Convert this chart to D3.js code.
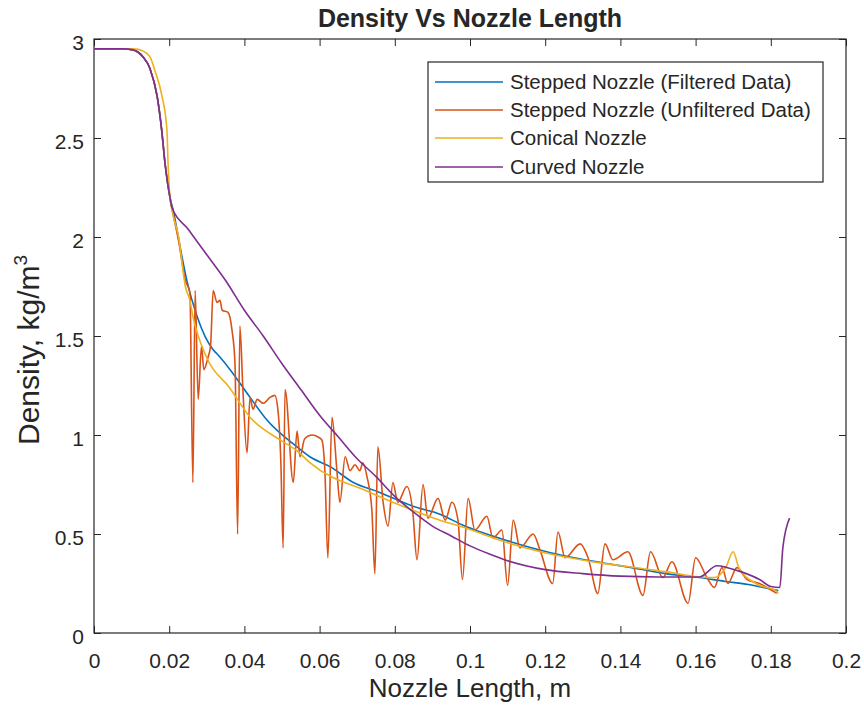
<!DOCTYPE html>
<html>
<head>
<meta charset="utf-8">
<script src="https://cdn.jsdelivr.net/npm/d3@7"></script>
<style>
  html, body { margin: 0; padding: 0; background: #fff; }
  svg text { font-family: "Liberation Sans", Arial, Helvetica, sans-serif; fill: #262626; }
</style>
</head>
<body>
<svg id="chart" width="864" height="713"></svg>
<script>
// ---------- data ----------
const xTicks = [0, 0.02, 0.04, 0.06, 0.08, 0.1, 0.12, 0.14, 0.16, 0.18, 0.2];
const yTicks = [0, 0.5, 1, 1.5, 2, 2.5, 3];
const seriesNames = ["Stepped Nozzle (Filtered Data)", "Stepped Nozzle (Unfiltered Data)", "Conical Nozzle", "Curved Nozzle"];
const seriesColors = ["#0072BD", "#D95319", "#EDB120", "#7E2F8E"];

const steppedFiltered = [
  [0,2.95],[0.008,2.95],[0.0104,2.945],[0.013,2.91],[0.0149,2.85],[0.0168,2.71],[0.018,2.54],
  [0.0189,2.37],[0.0202,2.2],[0.021,2.14],[0.0229,1.95],[0.0247,1.78],[0.0274,1.60],[0.0317,1.43],
  [0.0327,1.41],[0.0362,1.33],[0.0415,1.19],[0.046,1.076],[0.054,0.94],[0.0574,0.89],[0.0628,0.84],
  [0.069,0.76],[0.076,0.71],[0.0848,0.64],[0.092,0.60],[0.098,0.545],[0.111,0.46],[0.125,0.39],
  [0.135,0.355],[0.143,0.33],[0.152,0.30],[0.161,0.28],[0.168,0.26],[0.174,0.245],[0.178,0.23],[0.182,0.215]
];

const steppedUnfiltered = [
  [0,2.95],[0.008,2.95],[0.0104,2.945],[0.013,2.91],[0.0149,2.85],[0.0168,2.71],[0.018,2.54],
  [0.0189,2.37],[0.0202,2.2],[0.021,2.12],[0.0225,1.98],[0.0243,1.78],[0.0255,1.72],[0.0263,0.76],
  [0.0269,1.73],[0.0277,1.18],[0.0286,1.45],[0.0292,1.33],[0.0303,1.39],[0.031,1.45],[0.0317,1.73],
  [0.0327,1.67],[0.0335,1.68],[0.0341,1.63],[0.0356,1.62],[0.0367,1.53],[0.0375,1.36],[0.0382,0.5],
  [0.0388,1.55],[0.0396,1.23],[0.0407,0.91],[0.0415,1.19],[0.0423,1.13],[0.0434,1.18],[0.045,1.16],
  [0.0468,1.19],[0.0481,1.2],[0.0489,1.13],[0.0497,0.86],[0.0503,0.43],[0.0508,1.23],[0.053,0.76],
  [0.054,1.02],[0.0548,0.89],[0.056,0.98],[0.058,1.0],[0.0596,0.99],[0.0606,0.975],[0.0614,0.82],
  [0.0622,0.38],[0.0633,1.09],[0.0646,0.82],[0.0654,0.66],[0.0668,0.89],[0.0681,0.82],[0.0694,0.85],
  [0.0707,0.82],[0.0715,0.86],[0.0726,0.79],[0.0739,0.62],[0.0747,0.30],[0.0755,0.94],[0.0769,0.66],
  [0.0782,0.54],[0.0795,0.76],[0.0808,0.66],[0.0832,0.74],[0.0848,0.61],[0.0859,0.37],[0.0875,0.75],
  [0.0888,0.58],[0.0915,0.68],[0.0934,0.57],[0.0952,0.66],[0.0968,0.57],[0.098,0.27],[0.0995,0.68],
  [0.1013,0.52],[0.1045,0.59],[0.1061,0.48],[0.1085,0.52],[0.110,0.24],[0.1115,0.57],[0.1133,0.43],
  [0.1168,0.50],[0.1186,0.42],[0.122,0.25],[0.1234,0.51],[0.1253,0.38],[0.1293,0.45],[0.1314,0.38],
  [0.134,0.20],[0.1359,0.45],[0.138,0.37],[0.142,0.41],[0.146,0.19],[0.148,0.41],[0.1513,0.28],
  [0.1537,0.36],[0.158,0.15],[0.160,0.38],[0.163,0.28],[0.165,0.23],[0.167,0.33],[0.1686,0.25],
  [0.171,0.33],[0.1737,0.27],[0.177,0.25],[0.179,0.23],[0.1816,0.20]
];

const conical = [
  [0,2.95],[0.0105,2.95],[0.013,2.94],[0.0149,2.91],[0.0162,2.84],[0.0181,2.71],[0.0194,2.54],
  [0.0197,2.37],[0.0202,2.2],[0.0207,2.14],[0.0225,2.0],[0.0243,1.75],[0.0255,1.68],[0.0263,1.60],
  [0.030,1.39],[0.036,1.24],[0.0415,1.09],[0.0495,0.975],[0.054,0.92],[0.0574,0.86],[0.0734,0.71],
  [0.0848,0.62],[0.092,0.57],[0.098,0.535],[0.111,0.45],[0.125,0.385],[0.1346,0.354],[0.1426,0.333],
  [0.152,0.31],[0.161,0.283],[0.165,0.28],[0.168,0.33],[0.170,0.41],[0.1715,0.33],[0.176,0.25],
  [0.1816,0.21],[0.182,0.2]
];

const curved = [
  [0,2.95],[0.008,2.95],[0.0104,2.945],[0.013,2.91],[0.0149,2.85],[0.0168,2.71],[0.018,2.54],
  [0.0189,2.37],[0.0202,2.2],[0.0207,2.15],[0.025,2.04],[0.03,1.91],[0.035,1.78],[0.04,1.63],
  [0.045,1.50],[0.05,1.36],[0.055,1.23],[0.06,1.10],[0.065,0.99],[0.07,0.88],[0.075,0.79],
  [0.08,0.69],[0.085,0.61],[0.09,0.54],[0.095,0.49],[0.1,0.44],[0.105,0.40],[0.11,0.365],
  [0.12,0.32],[0.13,0.30],[0.14,0.287],[0.15,0.283],[0.161,0.283],[0.1657,0.34],[0.1685,0.33],
  [0.172,0.31],[0.177,0.27],[0.18,0.235],[0.1824,0.23],[0.1832,0.43],[0.185,0.58]
];

const allSeries = [steppedFiltered, steppedUnfiltered, conical, curved];

// ---------- layout ----------
const margin = { left: 94, right: 846, top: 39, bottom: 633 };
const svg = d3.select("#chart");
const x = d3.scaleLinear().domain([0, 0.2]).range([margin.left, margin.right]);
const y = d3.scaleLinear().domain([0, 3]).range([margin.bottom, margin.top]);
const axisColor = "#262626";
const tickLen = 7;
const fs = 21;

// bottom axis
const gx = svg.append("g").attr("transform", `translate(0,${margin.bottom})`)
  .call(d3.axisBottom(x).tickValues(xTicks).tickSizeInner(-tickLen).tickSizeOuter(0)
    .tickPadding(20).tickFormat(d3.format("~g")));
// top axis
const gxt = svg.append("g").attr("transform", `translate(0,${margin.top})`)
  .call(d3.axisTop(x).tickValues(xTicks).tickSizeInner(-tickLen).tickSizeOuter(0).tickFormat(""));
// left axis
const gy = svg.append("g").attr("transform", `translate(${margin.left},0)`)
  .call(d3.axisLeft(y).tickValues(yTicks).tickSizeInner(-tickLen).tickSizeOuter(0)
    .tickPadding(10).tickFormat(d3.format("~g")));
// right axis
const gyr = svg.append("g").attr("transform", `translate(${margin.right},0)`)
  .call(d3.axisRight(y).tickValues(yTicks).tickSizeInner(-tickLen).tickSizeOuter(0).tickFormat(""));

[gx, gxt, gy, gyr].forEach(g => {
  g.select(".domain").remove();
  g.selectAll(".tick line").attr("stroke", axisColor).attr("stroke-width", 1);
  g.selectAll(".tick text").attr("font-size", fs).attr("fill", axisColor)
    .style("font-family", '"Liberation Sans", Arial, sans-serif');
});
gy.selectAll(".tick text").attr("dy", "0.5em");

// box
svg.append("rect")
  .attr("x", margin.left).attr("y", margin.top)
  .attr("width", margin.right - margin.left).attr("height", margin.bottom - margin.top)
  .attr("fill", "none").attr("stroke", axisColor).attr("stroke-width", 1.2);

// lines
const line = d3.line().x(d => x(d[0])).y(d => y(d[1])).curve(d3.curveMonotoneX);
const plot = svg.append("g");
allSeries.forEach((s, i) => {
  plot.append("path").datum(s).attr("d", line)
    .attr("fill", "none").attr("stroke", seriesColors[i]).attr("stroke-width", 1.6)
    .attr("stroke-linejoin", "round");
});

// title
svg.append("text").attr("x", (margin.left + margin.right) / 2).attr("y", 27)
  .attr("text-anchor", "middle").attr("font-size", 25).attr("font-weight", "bold")
  .text("Density Vs Nozzle Length");

// x label
svg.append("text").attr("x", (margin.left + margin.right) / 2).attr("y", 697)
  .attr("text-anchor", "middle").attr("font-size", 26)
  .text("Nozzle Length, m");

// y label
const yl = svg.append("text")
  .attr("transform", `translate(39,350) rotate(-90)`)
  .attr("text-anchor", "middle").attr("font-size", 30);
yl.append("tspan").text("Density, kg/m");
yl.append("tspan").attr("font-size", 19).attr("dy", -12).text("3");

// legend
const lg = svg.append("g");
lg.append("rect").attr("x", 428).attr("y", 62).attr("width", 395).attr("height", 120)
  .attr("fill", "#fff").attr("stroke", axisColor).attr("stroke-width", 1.2);
const rowY = [82, 110, 138, 167];
seriesNames.forEach((name, i) => {
  lg.append("line").attr("x1", 435).attr("x2", 503).attr("y1", rowY[i]).attr("y2", rowY[i])
    .attr("stroke", seriesColors[i]).attr("stroke-width", 1.6);
  lg.append("text").attr("x", 510).attr("y", rowY[i]).attr("dy", "0.36em")
    .attr("font-size", 20.5).text(name);
});
</script>
</body>
</html>
